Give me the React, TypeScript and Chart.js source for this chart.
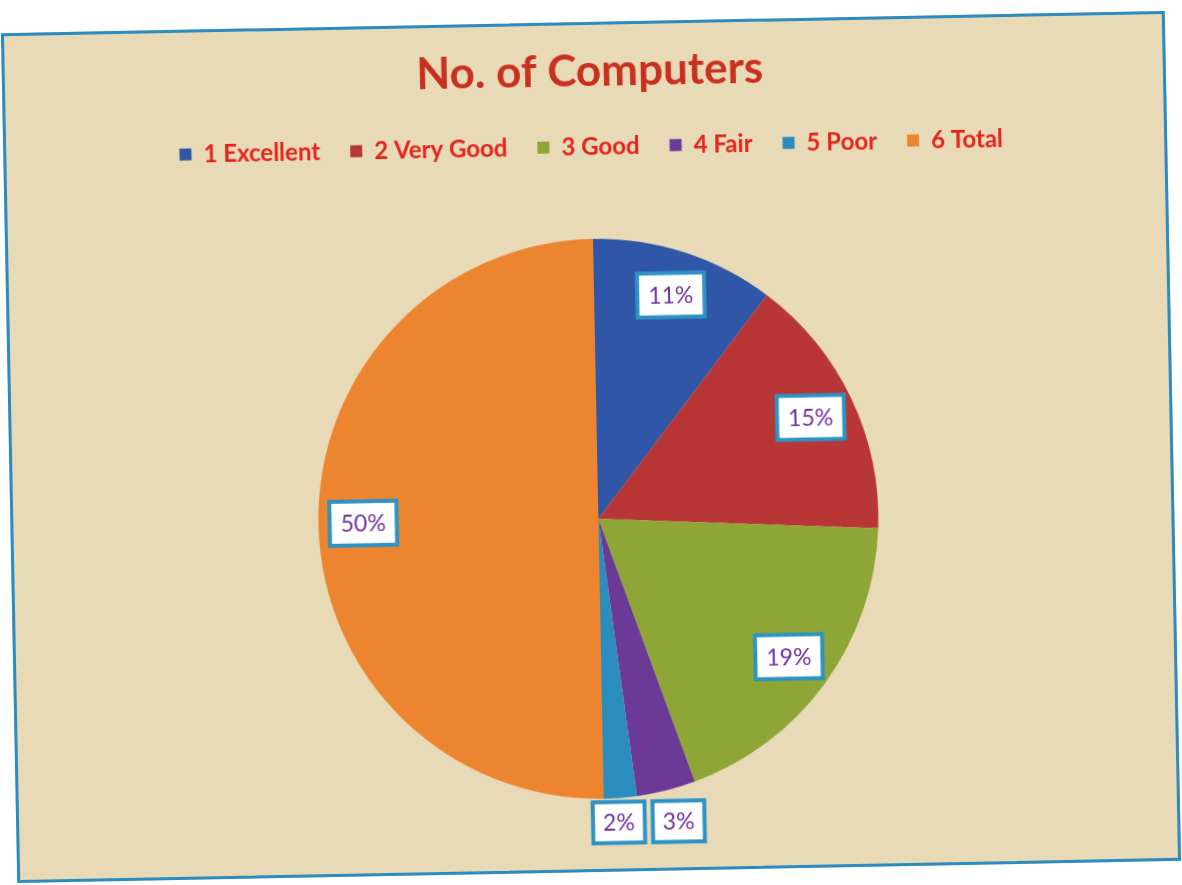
import React, { useEffect, useRef } from "react";
import { Chart, registerables } from "chart.js";

Chart.register(...registerables);

const categories = ["1 Excellent", "2 Very Good", "3 Good", "4 Fair", "5 Poor", "6 Total"];
const shares = [10.6, 15.3, 18.9, 3.4, 1.9, 50.1];
const sliceColors = ["#2f56a7", "#b83636", "#8ea636", "#6b3a97", "#2b8dbd", "#ec8430"];
const chartTitle = "No. of Computers";

const boxLabelPlugin = {
  id: "boxLabels",
  afterDatasetsDraw(chart: any) {
    const ctx = chart.ctx as CanvasRenderingContext2D;
    const meta = chart.getDatasetMeta(0);
    const data = chart.data.datasets[0].data as number[];
    const total = data.reduce((a, b) => a + b, 0);
    ctx.save();
    ctx.font = "23px Lato";
    const items = meta.data.map((arc: any, i: number) => {
      const p = arc.getProps(["x", "y", "startAngle", "endAngle", "outerRadius"], true);
      const mid = (p.startAngle + p.endAngle) / 2;
      const pct = (data[i] / total) * 100;
      const text = Math.round(pct) + "%";
      const tw = ctx.measureText(text).width;
      const outside = pct < 5;
      const w = tw + (outside ? 20 : 22);
      const h = outside ? 41 : 44;
      const r = outside ? p.outerRadius + 4 + h / 2 : p.outerRadius * 0.84;
      return { cx: p.x + Math.cos(mid) * r, cy: p.y + Math.sin(mid) * r, w, h, text, outside };
    });
    const out = items.filter((it: any) => it.outside).sort((a: any, b: any) => a.cx - b.cx);
    for (let k = 1; k < out.length; k++) {
      const a = out[k - 1];
      const b = out[k];
      const need = a.w / 2 + b.w / 2 + 8 - (b.cx - a.cx);
      if (need > 0 && Math.abs(a.cy - b.cy) < (a.h + b.h) / 2) {
        a.cx -= need * 0.35;
        b.cx += need * 0.65;
        const y = Math.max(a.cy, b.cy);
        a.cy = y;
        b.cy = y;
      }
    }
    items.forEach((it: any) => {
      const x0 = it.cx - it.w / 2;
      const y0 = it.cy - it.h / 2;
      ctx.fillStyle = "#ffffff";
      ctx.fillRect(x0, y0, it.w, it.h);
      ctx.lineWidth = 4;
      ctx.strokeStyle = "#2c93c4";
      ctx.strokeRect(x0, y0, it.w, it.h);
      ctx.fillStyle = "#7030a0";
      ctx.textAlign = "center";
      ctx.textBaseline = "middle";
      ctx.fillText(it.text, it.cx, it.cy + 1);
    });
    ctx.restore();
  },
};

export default function App() {
  const canvasRef = useRef<HTMLCanvasElement | null>(null);

  useEffect(() => {
    if (!canvasRef.current) return;
    const chart = new Chart(canvasRef.current, {
      type: "pie",
      data: {
        labels: categories,
        datasets: [
          {
            data: shares,
            backgroundColor: sliceColors,
            borderWidth: 0,
            radius: 280,
          } as any,
        ],
      },
      options: {
        animation: false,
        responsive: true,
        maintainAspectRatio: false,
        layout: { padding: { left: 12, right: 0, top: 0, bottom: 0 } },
        plugins: {
          title: {
            display: true,
            text: chartTitle,
            color: "#c9301f",
            font: { family: "Lato", size: 44, weight: "bold" },
            padding: { top: 20, bottom: 7 },
          },
          legend: {
            position: "top",
            labels: {
              boxWidth: 12,
              boxHeight: 12,
              padding: 30,
              color: "#e3241c",
              font: { family: "Lato", size: 24, weight: "bold" },
            },
          },
          tooltip: { enabled: false },
        },
      } as any,
      plugins: [boxLabelPlugin],
    });
    return () => chart.destroy();
  }, []);

  return (
    <div style={{ position: "fixed", inset: 0, overflow: "hidden", background: "#ffffff" }}>
      <div
        style={{
          position: "absolute",
          left: 9,
          top: 22,
          width: 1164,
          height: 850,
          boxSizing: "border-box",
          border: "3px solid #2a8cc2",
          background: "#e8dab6",
          transform: "rotate(-1.1deg)",
          overflow: "hidden",
        }}
      >
        <div style={{ position: "relative", width: 1158, height: 844 }}>
          <canvas ref={canvasRef} />
        </div>
      </div>
    </div>
  );
}
